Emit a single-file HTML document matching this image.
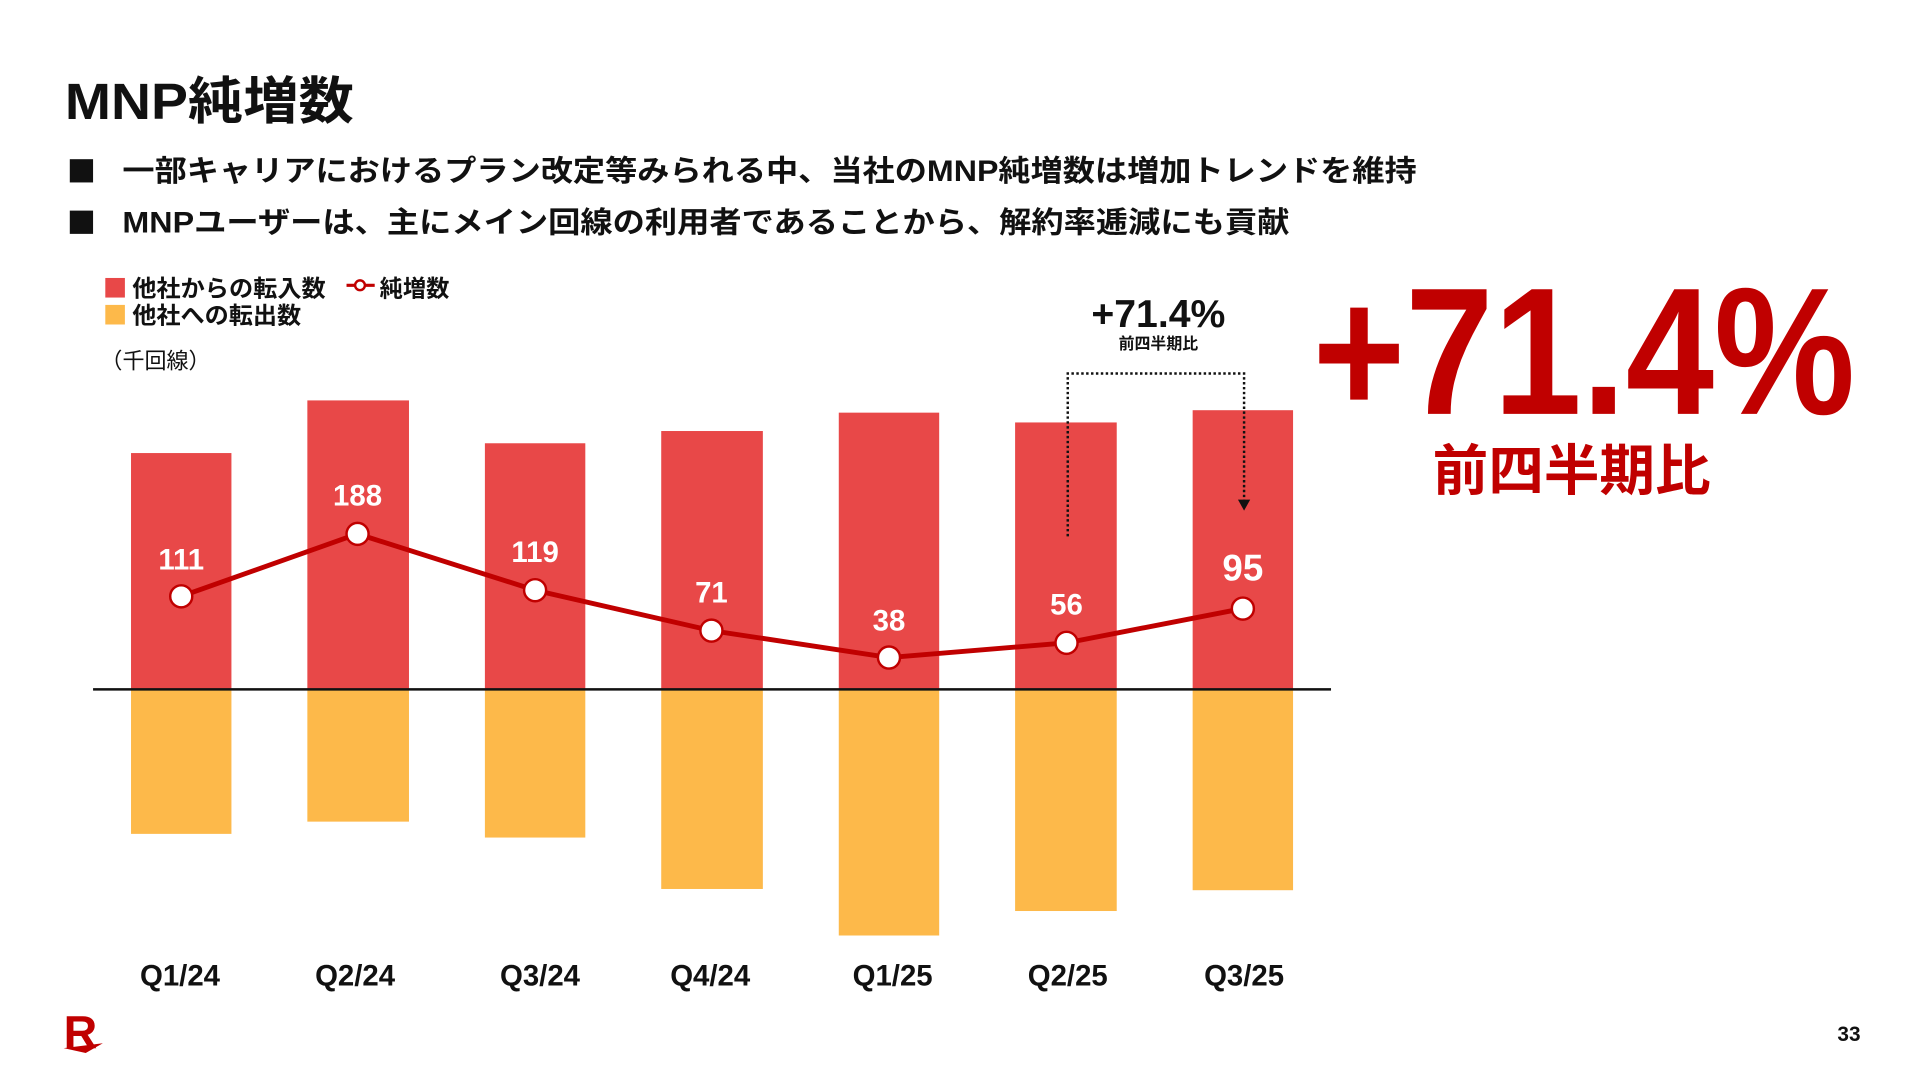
<!DOCTYPE html>
<html><head><meta charset="utf-8"><style>
html,body{margin:0;padding:0;background:#fff;}
svg{display:block;}
text{font-family:"Liberation Sans","Noto Sans CJK JP",sans-serif;}
</style></head><body>
<svg width="1920" height="1080" viewBox="0 0 1568 882" xmlns="http://www.w3.org/2000/svg">
<rect width="1568" height="882" fill="#fff"/>
<text x="53" y="97" font-size="42" font-weight="bold" fill="#111" textLength="236" lengthAdjust="spacingAndGlyphs">MNP純増数</text>
<rect x="57" y="130" width="19" height="19" fill="#111"/>
<text x="100" y="148" font-size="24" font-weight="bold" fill="#111" textLength="1057" lengthAdjust="spacingAndGlyphs">一部キャリアにおけるプラン改定等みられる中、当社のMNP純増数は増加トレンドを維持</text>
<rect x="57" y="172" width="19" height="19" fill="#111"/>
<text x="100" y="190" font-size="24" font-weight="bold" fill="#111" textLength="953" lengthAdjust="spacingAndGlyphs">MNPユーザーは、主にメイン回線の利用者であることから、解約率逓減にも貢献</text>
<rect x="86" y="227" width="16" height="16" fill="#e84848"/>
<text x="108" y="242" font-size="19" font-weight="bold" fill="#111" textLength="158" lengthAdjust="spacingAndGlyphs">他社からの転入数</text>
<line x1="283" y1="233" x2="306" y2="233" stroke="#c00000" stroke-width="2.5"/>
<circle cx="294" cy="233" r="4" fill="#fff" stroke="#c00000" stroke-width="2"/>
<text x="310" y="242" font-size="19" font-weight="bold" fill="#111">純増数</text>
<rect x="86" y="249" width="16" height="16" fill="#fdb94a"/>
<text x="108" y="264" font-size="19" font-weight="bold" fill="#111" textLength="138" lengthAdjust="spacingAndGlyphs">他社への転出数</text>
<text x="82" y="301" font-size="18" fill="#111">（千回線）</text>
<g fill="#e84848">
<rect x="107" y="370" width="82" height="193"/><rect x="251" y="327" width="83" height="236"/><rect x="396" y="362" width="82" height="201"/><rect x="540" y="352" width="83" height="211"/><rect x="685" y="337" width="82" height="226"/><rect x="829" y="345" width="83" height="218"/><rect x="974" y="335" width="82" height="228"/>
</g>
<g fill="#fdb94a">
<rect x="107" y="563" width="82" height="118"/><rect x="251" y="563" width="83" height="108"/><rect x="396" y="563" width="82" height="121"/><rect x="540" y="563" width="83" height="163"/><rect x="685" y="563" width="82" height="201"/><rect x="829" y="563" width="83" height="181"/><rect x="974" y="563" width="82" height="164"/>
</g>
<line x1="76" y1="563" x2="1087" y2="563" stroke="#111" stroke-width="2"/>
<polyline points="148,487 292,436 437,482 581,515 726,537 871,525 1015,497" fill="none" stroke="#c00000" stroke-width="4"/>
<g fill="#fff" stroke="#c00000" stroke-width="2">
<circle cx="148" cy="487" r="9"/><circle cx="292" cy="436" r="9"/><circle cx="437" cy="482" r="9"/><circle cx="581" cy="515" r="9"/><circle cx="726" cy="537" r="9"/><circle cx="871" cy="525" r="9"/><circle cx="1015" cy="497" r="9"/>
</g>
<g fill="#fff" font-size="24" font-weight="bold" text-anchor="middle">
<text x="148" y="465">111</text><text x="292" y="413">188</text><text x="437" y="459">119</text><text x="581" y="492">71</text><text x="726" y="515">38</text><text x="871" y="502">56</text><text x="1015" y="474" font-size="30">95</text>
</g>
<g fill="#111" font-size="24" font-weight="bold" text-anchor="middle">
<text x="147" y="805">Q1/24</text><text x="290" y="805">Q2/24</text><text x="441" y="805">Q3/24</text><text x="580" y="805">Q4/24</text><text x="729" y="805">Q1/25</text><text x="872" y="805">Q2/25</text><text x="1016" y="805">Q3/25</text>
</g>
<text x="946" y="267" font-size="32" font-weight="bold" fill="#111" text-anchor="middle">+71.4%</text>
<text x="946" y="285" font-size="13" font-weight="bold" fill="#111" text-anchor="middle">前四半期比</text>
<polyline points="872,438 872,305 1016,305 1016,410" fill="none" stroke="#111" stroke-width="2" stroke-dasharray="2,2"/>
<polygon points="1011,408 1021,408 1016,417" fill="#111"/>
<text x="1072" y="338" font-size="148" font-weight="bold" fill="#c00000" textLength="443" lengthAdjust="spacingAndGlyphs">+71.4%</text>
<text x="1170" y="400" font-size="45" font-weight="bold" fill="#c00000" textLength="227" lengthAdjust="spacingAndGlyphs">前四半期比</text>
<text x="52" y="856" font-size="38" font-weight="bold" fill="#c00000">R</text>
<path d="M52 856 L84 852 L70 860 Z" fill="#c00000"/>
<text x="1510" y="850" font-size="17" font-weight="bold" fill="#111" text-anchor="middle">33</text>
</svg>
</body></html>
